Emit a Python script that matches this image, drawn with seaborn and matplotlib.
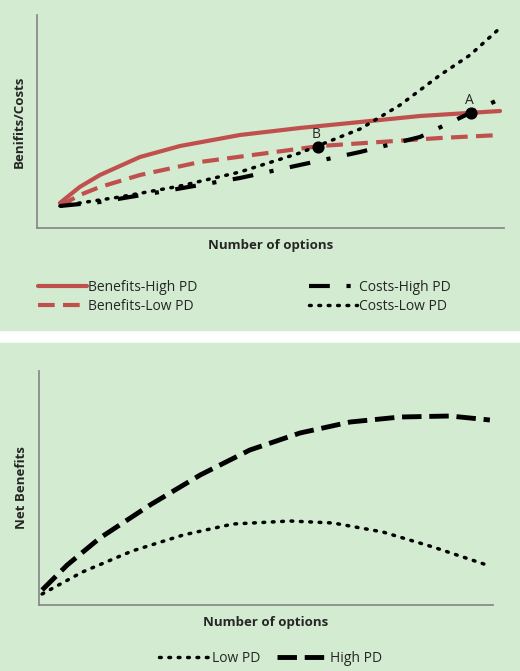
import matplotlib
matplotlib.use("Agg")
import matplotlib.pyplot as plt
import seaborn as sns
import pandas as pd
from matplotlib.patches import Rectangle
from matplotlib.lines import Line2D

sns.set_theme(style="white")
plt.rcParams['font.family'] = ['Open Sans', 'DejaVu Sans']

# Top panel data
x_bh = [0, .45, .91, 1.82, 2.73, 4.09, 5.45, 6.82, 8.18, 10]
y_bh = [25, 41, 53, 71, 82, 93, 100, 106, 112, 117]
x_bl = [0, .45, .91, 1.82, 3.18, 4.55, 5.91, 7.27, 8.64, 10]
y_bl = [22, 33, 41, 53, 66, 74, 82, 86, 90, 93]
x_ch = [0, .91, 2.27, 4.09, 5.45, 6.82, 8.18, 9.32, 10]
y_ch = [22, 26, 36, 50, 63, 76, 91, 115, 129]
x_cl = [0, 1.36, 2.73, 4.09, 5.45, 6.82, 7.73, 8.64, 9.32, 10]
y_cl = [22, 31, 42, 56, 75, 99, 123, 153, 173, 200]
pts_x = [5.86, 9.34]
pts_y = [81, 115]
pts_lab = ["B", "A"]

# Bottom panel data
x_nb = [0, .56, 1.29, 2.41, 3.53, 4.64, 5.76, 6.88, 8.0, 9.11, 10]
y_high = [15, 40, 67, 100, 130, 155, 172, 183, 188, 189, 185]
x_lo = [0, .9, 2.01, 3.15, 4.26, 5.54, 6.5, 7.61, 8.73, 10]
y_low = [11, 33, 54, 70, 81, 84, 82, 73, 58, 39]

W, H = 520, 671
fig = plt.figure(figsize=(5.2, 6.71), dpi=100)
green = "#d3ebd0"
fig.patches.append(Rectangle((0, 1 - 330 / H), 1, 330 / H, transform=fig.transFigure, color=green, zorder=-10))
fig.patches.append(Rectangle((0, 0), 1, 1 - 343 / H, transform=fig.transFigure, color=green, zorder=-10))

red = "#c0504d"
ax1 = fig.add_axes([37 / W, 1 - 228 / H, (504 - 37) / W, (228 - 15) / H])
ax1.set_facecolor("none")
sns.lineplot(x=x_bh, y=y_bh, ax=ax1, color=red, lw=3, label="Benefits-High PD")
sns.lineplot(x=x_bl, y=y_bl, ax=ax1, color=red, lw=3, dashes=False, label="Benefits-Low PD").lines[-1].set_dashes([4, 2])
l = sns.lineplot(x=x_ch, y=y_ch, ax=ax1, color="black", lw=3, label="Costs-High PD").lines[-1]
l.set_dashes([5, 4, 1, 4])
l = sns.lineplot(x=x_cl, y=y_cl, ax=ax1, color="black", lw=2.5, label="Costs-Low PD").lines[-1]
l.set_dashes([0.5, 2.2]); l.set_dash_capstyle("round")
ax1.scatter(pts_x, pts_y, s=60, color="black", zorder=5)
for px, py, t in zip(pts_x, pts_y, pts_lab):
    ax1.text(px - 0.03, py + 5, t, ha="center", va="bottom", fontsize=10)
ax1.set_xlim(-0.52, 10.09)
ax1.set_ylim(0, 213)
ax1.set_xticks([]); ax1.set_yticks([])
for s in ["top", "right"]:
    ax1.spines[s].set_visible(False)
for s in ["left", "bottom"]:
    ax1.spines[s].set_color("#888888")
ax1.set_xlabel("Number of options", fontsize=9.5, fontweight="bold", labelpad=8)
ax1.set_ylabel("Benifits/Costs", fontsize=9.5, fontweight="bold", labelpad=8)
h, lb = ax1.get_legend_handles_labels()
ax1.get_legend().remove()
fig.legend(h, lb, ncol=2, loc="center", bbox_to_anchor=(0.47, 1 - 297 / H), frameon=False,
           fontsize=10, columnspacing=8, handlelength=3.5, handletextpad=0.1, labelspacing=0.3)

ax2 = fig.add_axes([39 / W, 1 - 605 / H, (493 - 39) / W, (605 - 371) / H])
ax2.set_facecolor("none")
l = sns.lineplot(x=x_lo, y=y_low, ax=ax2, color="black", lw=2.5, label="Low PD").lines[-1]
l.set_dashes([0.5, 2.2]); l.set_dash_capstyle("round")
l = sns.lineplot(x=x_nb, y=y_high, ax=ax2, color="black", lw=3.5, label="High PD").lines[-1]
l.set_dashes([4, 1.6])
ax2.set_xlim(-0.07, 10.07)
ax2.set_ylim(0, 234)
ax2.set_xticks([]); ax2.set_yticks([])
for s in ["top", "right"]:
    ax2.spines[s].set_visible(False)
for s in ["left", "bottom"]:
    ax2.spines[s].set_color("#888888")
ax2.set_xlabel("Number of options", fontsize=9.5, fontweight="bold", labelpad=8)
ax2.set_ylabel("Net Benefits", fontsize=9.5, fontweight="bold", labelpad=8)
h, lb = ax2.get_legend_handles_labels()
ax2.get_legend().remove()
fig.legend(h, lb, ncol=2, loc="center", bbox_to_anchor=(0.52, 1 - 658 / H), frameon=False,
           fontsize=10, columnspacing=1.2, handlelength=3.5, handletextpad=0.3)

fig.savefig("out.png", dpi=100)
